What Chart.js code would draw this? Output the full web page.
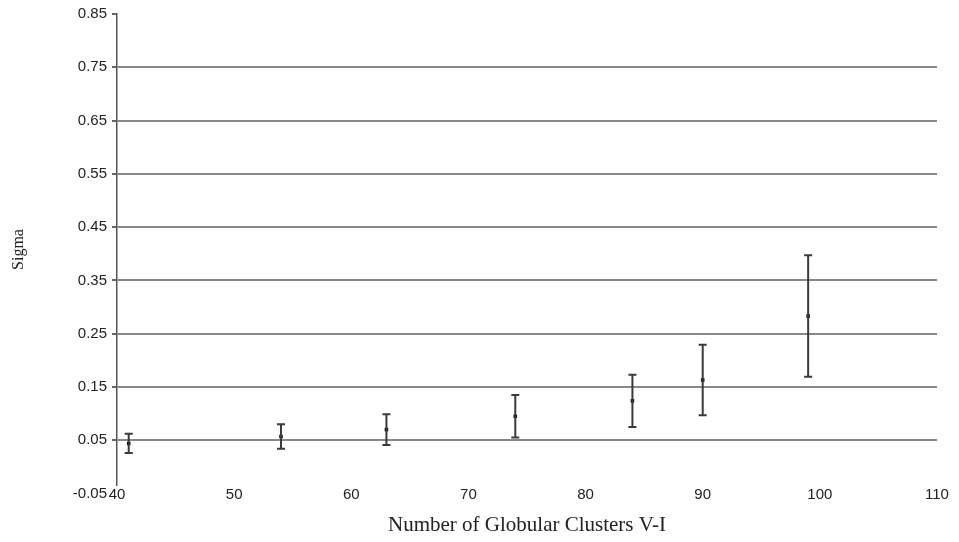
<!DOCTYPE html>
<html>
<head>
<meta charset="utf-8">
<script src="https://cdn.jsdelivr.net/npm/chart.js@4"></script>
<style>
  html, body { margin: 0; padding: 0; background: #fff; }
  #wrap { width: 959px; height: 542px; }
</style>
</head>
<body>
<div id="wrap"><canvas id="sigma"></canvas></div>
<script>
// values
const clusters = [41, 54, 63, 74, 84, 90, 99];
const sigma = [0.044, 0.057, 0.070, 0.095, 0.124, 0.163, 0.283];
const sigmaErr = [0.018, 0.023, 0.029, 0.040, 0.049, 0.066, 0.114];
const yTicks = [-0.05, 0.05, 0.15, 0.25, 0.35, 0.45, 0.55, 0.65, 0.75, 0.85];

// error bars, drawn through the chart scales
const errorBars = {
  id: "errorBars",
  afterDatasetsDraw(chart) {
    const ctx = chart.ctx;
    const x = chart.scales.x, y = chart.scales.y;
    ctx.save();
    ctx.strokeStyle = "#3a3a3a";
    ctx.lineWidth = 2;
    for (let i = 0; i < clusters.length; i++) {
      const px = x.getPixelForValue(clusters[i]);
      const top = y.getPixelForValue(sigma[i] + sigmaErr[i]);
      const bot = y.getPixelForValue(sigma[i] - sigmaErr[i]);
      ctx.beginPath();
      ctx.moveTo(px, top); ctx.lineTo(px, bot);
      ctx.moveTo(px - 4, top); ctx.lineTo(px + 4, top);
      ctx.moveTo(px - 4, bot); ctx.lineTo(px + 4, bot);
      ctx.stroke();
    }
    ctx.restore();
  }
};

function edgeTick(v) {
  return Math.abs(v - 0.85) < 1e-6 || Math.abs(v + 0.05) < 1e-6;
}

const points = clusters.map((c, i) => ({ x: c, y: sigma[i] }));

new Chart(document.getElementById("sigma"), {
  type: "scatter",
  data: {
    datasets: [{
      data: points,
      pointStyle: "rect",
      pointRadius: 2.5,
      backgroundColor: "#000",
      borderColor: "#000",
      borderWidth: 0
    }]
  },
  options: {
    responsive: true,
    maintainAspectRatio: false,
    animation: false,
    layout: { padding: { top: 14, right: 22, left: 0, bottom: 0 } },
    plugins: { legend: { display: false }, tooltip: { enabled: false } },
    scales: {
      x: {
        type: "linear",
        min: 40,
        max: 110,
        afterFit: (s) => { s.height = 57; },
        grid: { display: false, drawTicks: false },
        border: { display: false },
        ticks: {
          stepSize: 10,
          padding: 1,
          color: "#222",
          font: { family: "Liberation Sans", size: 15 }
        },
        title: {
          display: true,
          text: "Number of Globular Clusters V-I",
          color: "#222",
          font: { family: "Liberation Serif", size: 21 },
          padding: { top: 0, bottom: 4 }
        }
      },
      y: {
        type: "linear",
        // bottom edge stops a little above -0.05 so the x labels sit level with it
        min: -0.034,
        max: 0.85,
        afterFit: (s) => { s.width = 117; },
        afterBuildTicks: (s) => { s.ticks = yTicks.map(v => ({ value: v })); },
        grid: {
          color: (c) => edgeTick(c.tick.value) ? "rgba(0,0,0,0)" : "#888",
          lineWidth: 2,
          tickColor: (c) => c.tick.value < 0 ? "rgba(0,0,0,0)" : "#666",
          tickLength: 5
        },
        border: { display: true, color: "#555", width: 1.5 },
        ticks: {
          padding: 5,
          color: "#222",
          font: { family: "Liberation Sans", size: 15 },
          callback: (v) => v.toFixed(2)
        },
        title: {
          display: true,
          text: "Sigma",
          color: "#222",
          font: { family: "Liberation Serif", size: 16 },
          padding: { top: 9, bottom: 4 }
        }
      }
    }
  },
  plugins: [errorBars]
});
</script>
</body>
</html>
